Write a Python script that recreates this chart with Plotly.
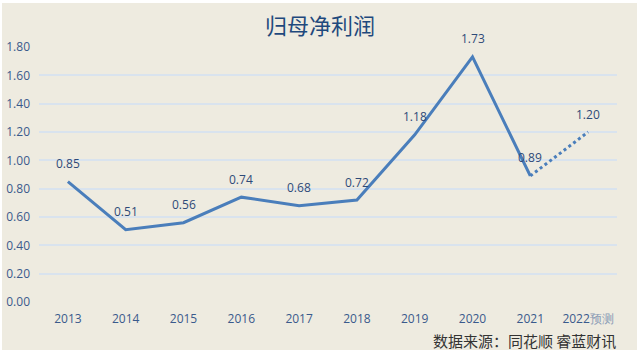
import plotly.graph_objects as go

years = ["2013", "2014", "2015", "2016", "2017", "2018", "2019", "2020", "2021", "2022"]
tick_labels = ["2013", "2014", "2015", "2016", "2017", "2018", "2019", "2020", "2021",
               "2022<span style='color:#8A9BB5'>预测</span>"]
actual = [0.85, 0.51, 0.56, 0.74, 0.68, 0.72, 1.18, 1.73, 0.89]
forecast_years = ["2021", "2022"]
forecast = [0.89, 1.20]

W, H = 640, 354
L, R, T, B = 39, 617, 47, 302
def px(x):
    return (x - L) / (R - L)
def py(y):
    return (B - y) / (B - T)

line_color = "#4A7EBB"
label_color = "#2E4A78"

fig = go.Figure()
fig.add_trace(go.Scatter(
    x=years[:len(actual)], y=actual, mode="lines",
    line=dict(color=line_color, width=3),
    showlegend=False, hoverinfo="skip"))
fig.add_trace(go.Scatter(
    x=forecast_years, y=forecast, mode="lines",
    line=dict(color=line_color, width=3, dash="dot"),
    showlegend=False, hoverinfo="skip"))

label_x = years[:len(actual)] + [forecast_years[-1]]
label_y = actual + [forecast[-1]]
annotations = [
    dict(x=years.index(xv), y=yv, xref="x", yref="y", text=f"{yv:.2f}", showarrow=False,
         xanchor="center", yanchor="middle", yshift=18,
         font=dict(family="Open Sans", size=12, color=label_color))
    for xv, yv in zip(label_x, label_y)
]
annotations += [
    dict(text="归母净利润", x=px(320), y=py(24), xref="paper", yref="paper",
         xanchor="center", yanchor="middle", showarrow=False,
         font=dict(family="Noto Sans CJK SC", size=22, color="#1F497D")),
    dict(text="数据来源：同花顺 睿蓝财讯", x=px(618), y=py(340), xref="paper", yref="paper",
         xanchor="right", yanchor="middle", showarrow=False,
         font=dict(family="Noto Sans CJK SC", size=15, color="#333333")),
]

fig.update_layout(
    width=W, height=H,
    margin=dict(l=L, r=W - R, t=T, b=H - B),
    paper_bgcolor="#EEEBE0", plot_bgcolor="#EEEBE0",
    xaxis=dict(type="category", categoryorder="array", categoryarray=years,
               tickvals=years, ticktext=tick_labels, range=[-0.5, 9.5],
               showgrid=False, zeroline=False, showline=False, ticks="",
               automargin=False,
               tickfont=dict(family="Open Sans", size=12, color="#3A5A8C"),
               ticklabelstandoff=8),
    yaxis=dict(range=[0, 1.8], dtick=0.2, tickformat=".2f",
               showgrid=True, gridcolor="#D9E3EE", gridwidth=1.5,
               zeroline=False, showline=False, ticks="",
               automargin=False,
               tickfont=dict(family="Open Sans", size=12, color="#3A5A8C"),
               ticklabelstandoff=8),
    font=dict(family="Open Sans"),
    annotations=annotations,
    shapes=[
        dict(type="rect", xref="paper", yref="paper", x0=px(0), x1=px(2), y0=py(0), y1=py(H),
             fillcolor="white", line_width=0, layer="above"),
        dict(type="rect", xref="paper", yref="paper", x0=px(0), x1=px(W), y0=py(0), y1=py(3),
             fillcolor="white", line_width=0, layer="above"),
        dict(type="rect", xref="paper", yref="paper", x0=px(637), x1=px(W), y0=py(0), y1=py(H),
             fillcolor="white", line_width=0, layer="above"),
        dict(type="rect", xref="paper", yref="paper", x0=px(0), x1=px(W), y0=py(350), y1=py(H),
             fillcolor="white", line_width=0, layer="above"),
    ],
)

fig.write_html("out.html")
